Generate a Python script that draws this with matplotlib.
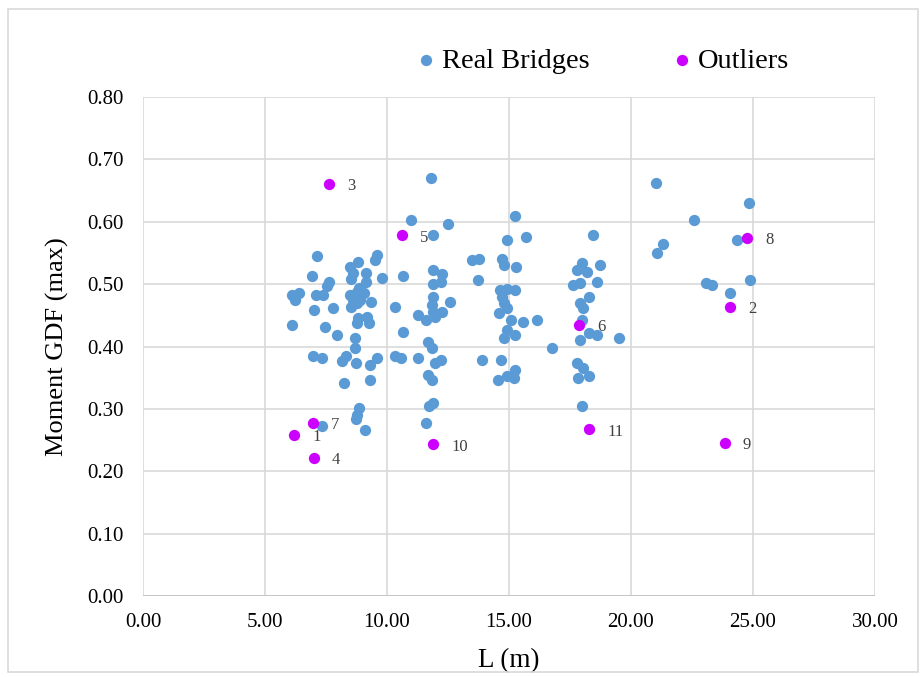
import matplotlib
matplotlib.use("Agg")
import matplotlib.pyplot as plt
from matplotlib.patches import Rectangle

plt.rcParams['font.family'] = ['Liberation Serif', 'DejaVu Serif']

# Real bridges: span L (m) and moment GDF (max)
real_L = [11.80, 10.98, 12.50, 11.89, 7.13, 9.59, 9.51, 8.81, 8.48, 9.14, 8.61, 6.93,
          9.80, 10.66, 11.89, 12.25, 8.52, 7.62, 7.54, 9.14, 11.89, 12.21, 6.11, 6.39,
          6.23, 7.09, 7.38, 8.48, 8.77, 9.06, 8.85, 8.61, 8.89, 9.34, 8.52, 8.77, 7.01,
          7.79, 10.33, 11.89, 11.84, 12.58, 11.27, 11.60, 11.97, 12.25, 11.89, 8.81, 9.18,
          9.26, 8.77, 6.11, 7.46, 7.95, 10.66, 8.69, 8.69, 11.68, 11.84, 6.97, 7.34, 8.16,
          8.32, 8.73, 9.30, 9.59, 10.33, 10.57, 11.27, 11.97, 12.21, 11.68, 11.84, 8.24,
          9.30, 8.85, 8.77, 8.73, 9.10, 11.72, 11.89, 11.60, 7.34,
          15.25, 14.92, 15.70, 13.48, 13.77, 14.71, 14.80, 15.29, 13.73, 14.63, 14.92,
          15.25, 14.71, 14.80, 14.92, 14.59, 15.08, 15.57, 16.15, 14.92, 15.25, 14.80,
          16.76, 13.89, 14.67, 14.55, 14.92, 15.25, 15.20,
          18.44, 17.99, 17.79, 18.20, 18.73, 17.62, 17.91, 18.61, 18.28, 17.91, 18.03,
          17.99, 18.28, 18.61, 19.51, 17.91, 17.79, 18.03, 17.83, 18.28, 17.99,
          21.02, 24.84, 22.58, 21.31, 21.07, 24.34, 23.07, 23.32, 24.88, 24.06]
real_G = [0.670, 0.603, 0.597, 0.578, 0.545, 0.547, 0.539, 0.536, 0.528, 0.518, 0.518, 0.513,
          0.510, 0.513, 0.523, 0.517, 0.509, 0.504, 0.497, 0.504, 0.501, 0.504, 0.483, 0.486,
          0.475, 0.482, 0.482, 0.483, 0.488, 0.486, 0.494, 0.475, 0.475, 0.472, 0.464, 0.470, 0.459,
          0.462, 0.464, 0.480, 0.467, 0.472, 0.450, 0.443, 0.448, 0.456, 0.456, 0.446, 0.448,
          0.438, 0.438, 0.435, 0.432, 0.418, 0.424, 0.414, 0.398, 0.408, 0.398, 0.384, 0.381, 0.376,
          0.384, 0.374, 0.370, 0.381, 0.384, 0.382, 0.381, 0.374, 0.378, 0.355, 0.347, 0.341,
          0.347, 0.302, 0.290, 0.283, 0.266, 0.304, 0.310, 0.277, 0.272,
          0.610, 0.570, 0.576, 0.539, 0.541, 0.541, 0.531, 0.528, 0.507, 0.490, 0.492,
          0.490, 0.480, 0.469, 0.461, 0.454, 0.443, 0.440, 0.442, 0.427, 0.418, 0.413,
          0.398, 0.378, 0.378, 0.346, 0.352, 0.363, 0.349,
          0.579, 0.534, 0.522, 0.520, 0.531, 0.499, 0.502, 0.504, 0.480, 0.470, 0.462,
          0.442, 0.422, 0.419, 0.414, 0.410, 0.374, 0.366, 0.349, 0.352, 0.304,
          0.662, 0.630, 0.603, 0.565, 0.550, 0.571, 0.502, 0.498, 0.507, 0.485]

# Outliers
out_id = ['1', '2', '3', '4', '5', '6', '7', '8', '9', '10', '11']
out_L = [6.19, 24.06, 7.62, 7.01, 10.61, 17.87, 6.97, 24.75, 23.85, 11.89, 18.28]
out_G = [0.258, 0.464, 0.661, 0.222, 0.578, 0.435, 0.278, 0.574, 0.245, 0.243, 0.267]

x_ticks = [0, 5, 10, 15, 20, 25, 30]
y_ticks = [0.0, 0.1, 0.2, 0.3, 0.4, 0.5, 0.6, 0.7, 0.8]

fig = plt.figure(figsize=(9.23, 6.77), dpi=100)
fig.patches.append(Rectangle((8/923, 5/677), 910/923, 663/677, transform=fig.transFigure,
                             fill=False, edgecolor='#d9d9d9', linewidth=1.2))
ax = fig.add_axes([143/923, 81/677, 732/923, 499/677])

blue = '#5b9bd5'
mag = '#cc00ff'
ax.scatter(real_L, real_G, s=66, color=blue, label='Real Bridges', zorder=3, linewidths=0)
ax.scatter(out_L, out_G, s=66, color=mag, label='Outliers', zorder=4, linewidths=0)
for i, lx, ly in zip(out_id, out_L, out_G):
    ax.annotate(i, (lx, ly), xytext=(13, -1.5), textcoords='offset points',
                fontsize=12, color='#404040', va='center', ha='left')

ax.set_xlim(0, 30)
ax.set_ylim(0, 0.8)
ax.set_xticks(x_ticks)
ax.set_yticks(y_ticks)
ax.set_xticklabels([f'{v:.2f}' for v in x_ticks], fontsize=15)
ax.set_yticklabels([f'{v:.2f}' for v in y_ticks], fontsize=15)
ax.tick_params(axis='x', length=0, pad=12)
ax.tick_params(axis='y', length=0, pad=14)
ax.grid(True, color='#d9d9d9', linewidth=1.2, zorder=0)
ax.set_axisbelow(True)
for s in ax.spines.values():
    s.set_visible(False)
ax.axhline(0, color='#bfbfbf', linewidth=1.2, zorder=1)
ax.set_xlabel('L (m)', fontsize=19.5, labelpad=12)
ax.set_ylabel('Moment GDF (max)', fontsize=19, labelpad=13)

leg = fig.legend(loc='center', bbox_to_anchor=(604/923, 1 - 61/677), ncol=2, frameon=False,
                 fontsize=20.5, handlelength=0.5, handletextpad=0.3, columnspacing=3.0,
                 markerscale=1.0)

fig.savefig('out.png', dpi=100)
